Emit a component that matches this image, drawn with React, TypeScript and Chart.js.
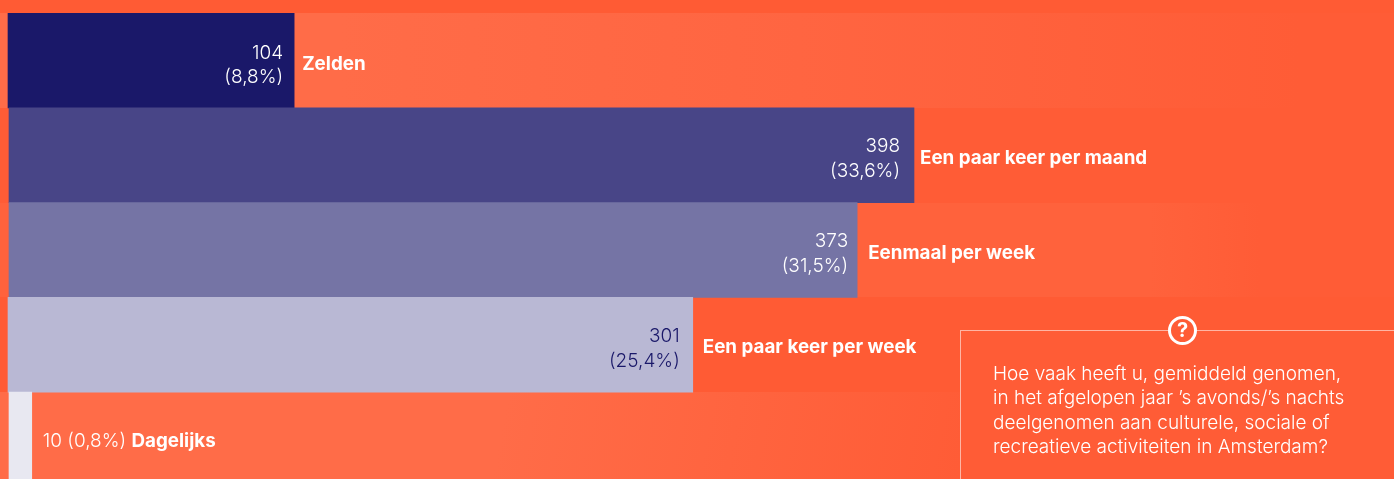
import React, { useEffect, useRef } from "react";
import { Chart, registerables } from "chart.js";

Chart.register(...registerables);

const categories = ["Zelden", "Een paar keer per maand", "Eenmaal per week", "Een paar keer per week", "Dagelijks"];
const barStarts = [-0.44, 0, 0, -0.44, 0];
const barEnds = [125.4, 398, 373, 300.7, 10];
const counts = ["104", "398", "373", "301", "10"];
const shares = ["(8,8%)", "(33,6%)", "(31,5%)", "(25,4%)", "(0,8%)"];
const barColors = ["#1a1869", "#484587", "#7574a5", "#b9b8d4", "#e8e8f1"];
const questionLines = [
  "Hoe vaak heeft u, gemiddeld genomen,",
  "in het afgelopen jaar ’s avonds/’s nachts",
  "deelgenomen aan culturele, sociale of",
  "recreatieve activiteiten in Amsterdam?",
];

const FONT = "Inter, sans-serif";
const insideGap = [11, 14, 9, 13, 0];
const outsideGap = [8, 6, 11, 10, 0];
const rowNudge = [1, 0, 0, 0, 0];

const labelsPlugin = {
  id: "barLabels",
  afterDatasetsDraw(chart: any) {
    const { ctx, scales } = chart;
    const x = scales.x;
    const y = scales.y;
    ctx.save();
    ctx.textBaseline = "middle";
    categories.forEach((cat, i) => {
      const end = x.getPixelForValue(barEnds[i]);
      const cy = y.getPixelForValue(i) + rowNudge[i];
      if (i === 4) {
        const line = `${counts[i]} ${shares[i]} `;
        ctx.font = `300 19px ${FONT}`;
        ctx.fillStyle = "#ffffff";
        ctx.textAlign = "left";
        ctx.fillText(line, end + 11, cy + 2);
        const w = ctx.measureText(line).width;
        ctx.font = `700 18.8px ${FONT}`;
        ctx.fillText(cat, end + 11 + w, cy + 2);
        return;
      }
      ctx.font = `300 19px ${FONT}`;
      ctx.fillStyle = i === 3 ? "#1a1869" : "#ffffff";
      ctx.textAlign = "right";
      ctx.fillText(counts[i], end - insideGap[i], cy - 8.5);
      ctx.fillText(shares[i], end - insideGap[i], cy + 16);
      ctx.font = `700 18.8px ${FONT}`;
      ctx.fillStyle = "#ffffff";
      ctx.textAlign = "left";
      ctx.fillText(cat, end + outsideGap[i], cy + 3);
    });
    ctx.restore();
  },
};

export default function App() {
  const ref = useRef<HTMLCanvasElement>(null);
  useEffect(() => {
    document.body.style.margin = "0";
    const chart = new Chart(ref.current as HTMLCanvasElement, {
      type: "bar",
      data: {
        labels: categories,
        datasets: [
          {
            data: barEnds.map((e, i) => [barStarts[i], e]) as any,
            backgroundColor: barColors,
            borderWidth: 0,
            borderSkipped: false,
            categoryPercentage: 1,
            barPercentage: 1,
          },
        ],
      },
      options: {
        indexAxis: "y",
        animation: false,
        responsive: false,
        maintainAspectRatio: false,
        layout: { padding: { top: 13, bottom: 0, left: 0, right: 0 } },
        plugins: { legend: { display: false }, tooltip: { enabled: false } },
        scales: {
          x: { type: "linear", min: -3.96, max: 609.1, display: false },
          y: { type: "category", display: false },
        },
      },
      plugins: [labelsPlugin],
    });
    return () => chart.destroy();
  }, []);

  return (
    <div
      style={{
        position: "absolute",
        left: 0,
        top: 0,
        width: 1394,
        height: 479,
        overflow: "hidden",
        background: "#ff5b34",
        fontFamily: FONT,
      }}
    >
      <div style={{ position: "absolute", left: 0, top: 13, width: 1394, height: 95, background: "linear-gradient(90deg,#ff6c48 0,#ff6c48 340px,#ff6541 800px,#ff5c36 1300px)" }} />
      <div style={{ position: "absolute", left: 0, top: 108, width: 1394, height: 95, background: "#ff5c36" }} />
      <div style={{ position: "absolute", left: 0, top: 203, width: 1394, height: 94, background: "linear-gradient(90deg,#ff623c 0,#ff623c 1150px,#ff5c36 1260px)" }} />
      <div style={{ position: "absolute", left: 0, top: 392, width: 1394, height: 87, background: "linear-gradient(100deg,#ff6c48 0,#ff6c48 500px,#ff5c36 960px)" }} />
      <canvas ref={ref} width={1394} height={487} style={{ position: "absolute", left: 0, top: 0, display: "block" }} />
      <div
        style={{
          position: "absolute",
          left: 960,
          top: 330,
          width: 440,
          height: 160,
          borderTop: "1px solid rgba(255,255,255,0.55)",
          borderLeft: "1px solid rgba(255,255,255,0.55)",
          background: "#ff5c36",
        }}
      />
      <div
        style={{
          position: "absolute",
          left: 1168,
          top: 316,
          width: 23,
          height: 23,
          border: "3px solid #ffffff",
          borderRadius: "50%",
          background: "#ff5c36",
          color: "#ffffff",
          fontWeight: 700,
          fontSize: 20,
          lineHeight: "23px",
          textAlign: "center",
        }}
      >
        ?
      </div>
      <div
        style={{
          position: "absolute",
          left: 993,
          top: 362,
          fontSize: 19,
          fontWeight: 300,
          lineHeight: "24.3px",
          color: "#ffffff",
          whiteSpace: "nowrap",
        }}
      >
        {questionLines.map((l) => (
          <div key={l}>{l}</div>
        ))}
      </div>
    </div>
  );
}
